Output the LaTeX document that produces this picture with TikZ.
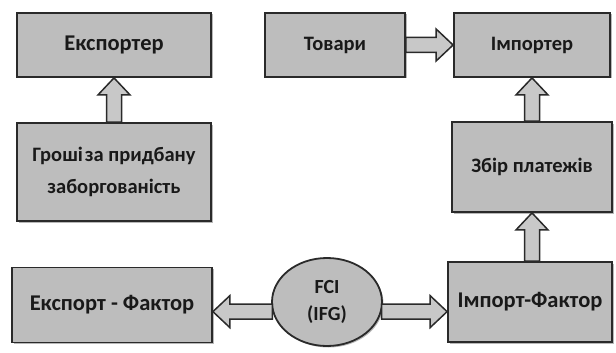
\documentclass[tikz,border=0pt]{standalone}
\usepackage{fontspec}
\setmainfont{Carlito}
\usetikzlibrary{calc,shapes.geometric,shadows}
\definecolor{boxfill}{HTML}{BDBDBD}
\definecolor{arrfill}{HTML}{C8C8C8}
\definecolor{edge}{HTML}{2A2A2A}
\tikzset{
  box/.style={draw=edge, line width=1.8pt, fill=boxfill, rectangle, inner sep=2pt,
    align=center, font=\bfseries\fontsize{20.5}{32}\selectfont, text=black!90,
    drop shadow={shadow xshift=1.5pt, shadow yshift=-1.5pt, fill=gray!70, opacity=0.8}},
  bigtext/.style={font=\bfseries\fontsize{22.5}{30}\selectfont},
  oval/.style={box, ellipse, inner sep=0pt, font=\bfseries\fontsize{20}{27}\selectfont},
  blockarrow/.style={draw=edge, line width=1.5pt, fill=arrfill, line join=miter}
}
\newcommand\blockarr[2]{%
  \coordinate (baS) at (#1);
  \coordinate (baE) at (#2);
  \coordinate (baH) at ($(baE)!17pt!(baS)$);
  \draw[blockarrow] ($(baS)!7.5pt!90:(baE)$) -- ($(baH)!7.5pt!90:(baE)$)
    -- ($(baH)!16pt!90:(baE)$) -- (baE) -- ($(baH)!16pt!-90:(baE)$)
    -- ($(baH)!7.5pt!-90:(baE)$) -- ($(baS)!7.5pt!-90:(baE)$) -- cycle;
}
\begin{document}
\begin{tikzpicture}[x=1pt,y=-1pt]
\useasboundingbox (0,0) rectangle (616,353);
\node[box, bigtext, minimum width=194pt, minimum height=64pt] (exp) at (114,45) {Експортер};
\node[box, minimum width=194pt, minimum height=98pt] (money) at (114,172) {Гроші\hspace{0.1em}за придбану\\заборгованість};
\node[box, minimum width=140pt, minimum height=64pt] (goods) at (335,45) {Товари};
\node[box, minimum width=156pt, minimum height=64pt] (imp) at (532,45) {Імпортер};
\node[box, minimum width=160pt, minimum height=90pt] (coll) at (532,167) {Збір платежів};
\node[box, bigtext, minimum width=164pt, minimum height=80pt] (impf) at (530,302) {Імпорт-Фактор};
\node[box, bigtext, minimum width=200pt, minimum height=75pt] (expf) at (112,305) {Експорт - Фактор};
\node[oval, minimum width=110pt, minimum height=88pt] (fci) at (327,302) {FCI\\(IFG)};
\blockarr{money.north}{exp.south}
\blockarr{goods.east}{imp.west}
\blockarr{coll.north}{imp.south}
\blockarr{impf.north -| coll.south}{coll.south}
\blockarr{fci.190}{expf.east |- fci.190}
\blockarr{fci.-10}{impf.west |- fci.-10}
\end{tikzpicture}
\end{document}
